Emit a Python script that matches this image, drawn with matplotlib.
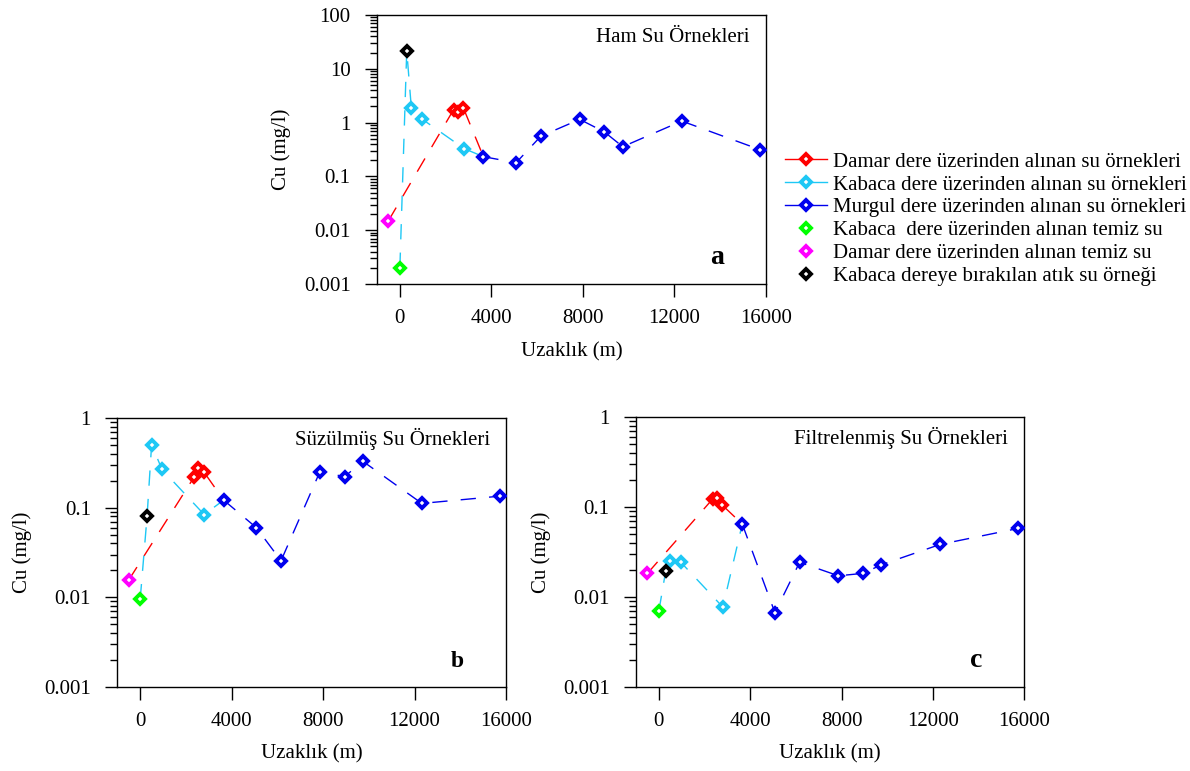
import matplotlib
matplotlib.use('Agg')
import matplotlib.pyplot as plt
from matplotlib.lines import Line2D
from matplotlib.ticker import LogLocator, FuncFormatter, NullFormatter

plt.rcParams['font.family'] = ['Liberation Serif', 'DejaVu Serif']
plt.rcParams['font.size'] = 15

# distance along the streams (m)
x_damar_temiz = -500
x_kabaca_temiz = 0
x_atik = 300
x_kabaca = [500, 950, 2800]
x_damar = [2350, 2550, 2780]
x_murgul = [3650, 5080, 6160, 7860, 8940, 9740, 12320, 15740]

# Cu (mg/l) - a: ham su
ham_damar_temiz = 0.015
ham_kabaca_temiz = 0.002
ham_atik = 21.7
ham_kabaca = [1.9, 1.18, 0.33]
ham_damar = [1.75, 1.6, 1.85]
ham_murgul = [0.233, 0.18, 0.56, 1.15, 0.67, 0.357, 1.07, 0.314]

# b: süzülmüş su
suz_damar_temiz = 0.0156
suz_kabaca_temiz = 0.0095
suz_atik = 0.080
suz_kabaca = [0.51, 0.269, 0.084]
suz_damar = [0.219, 0.281, 0.253]
suz_murgul = [0.122, 0.060, 0.0256, 0.253, 0.223, 0.331, 0.112, 0.135]

# c: filtrelenmiş su
fil_damar_temiz = 0.0183
fil_kabaca_temiz = 0.0070
fil_atik = 0.0196
fil_kabaca = [0.0253, 0.0245, 0.0077]
fil_damar = [0.123, 0.125, 0.105]
fil_murgul = [0.0648, 0.00667, 0.0243, 0.0172, 0.0183, 0.0228, 0.0385, 0.058]

labels = ["Damar dere üzerinden alınan su örnekleri",
          "Kabaca dere üzerinden alınan su örnekleri",
          "Murgul dere üzerinden alınan su örnekleri",
          "Kabaca  dere üzerinden alınan temiz su",
          "Damar dere üzerinden alınan temiz su",
          "Kabaca dereye bırakılan atık su örneği"]

RED, CYAN, BLUE = '#ff0000', '#1ec8f5', '#0000ee'
GREEN, MAGENTA, BLACK = '#00ff00', '#ff00ff', '#000000'
dash = (11, 9.5)
mk = dict(marker='D', ms=4.8, mew=2.8, mfc='white', ls='none', zorder=3)


def draw(ax, damar_temiz, kabaca_temiz, atik, kabaca, damar, murgul):
    # tributaries join Murgul at its first sampling point
    ax.plot([x_damar_temiz] + x_damar + [x_murgul[0]],
            [damar_temiz] + damar + [murgul[0]], color=RED, lw=1, dashes=dash)
    ax.plot([x_kabaca_temiz, x_atik] + x_kabaca + [x_murgul[0]],
            [kabaca_temiz, atik] + kabaca + [murgul[0]], color=CYAN, lw=1, dashes=dash)
    ax.plot(x_murgul, murgul, color=BLUE, lw=1, dashes=dash)

    ax.plot(x_damar, damar, mec=RED, **mk)
    ax.plot(x_kabaca, kabaca, mec=CYAN, **mk)
    ax.plot(x_murgul, murgul, mec=BLUE, **mk)
    ax.plot([x_kabaca_temiz], [kabaca_temiz], mec=GREEN, **mk)
    ax.plot([x_damar_temiz], [damar_temiz], mec=MAGENTA, **mk)
    ax.plot([x_atik], [atik], mec=BLACK, **mk)


def style(ax, ymax, title, letter, letter_size):
    ax.set_yscale('log')
    ax.set_ylim(0.001, ymax)
    ax.set_xlim(-1000, 16000)
    ax.set_xticks([0, 4000, 8000, 12000, 16000])
    ax.yaxis.set_major_locator(LogLocator(base=10))
    ax.yaxis.set_minor_locator(LogLocator(base=10, subs=range(2, 10)))
    ax.yaxis.set_minor_formatter(NullFormatter())
    ax.yaxis.set_major_formatter(FuncFormatter(lambda v, p: '%g' % v))
    ax.tick_params(axis='x', direction='out', length=9, width=1, pad=9)
    ax.tick_params(axis='y', which='major', direction='out', length=9, width=1, pad=10)
    ax.tick_params(axis='y', which='minor', direction='out', length=5, width=1)
    for s in ax.spines.values():
        s.set_linewidth(1)
    ax.set_ylabel('Cu (mg/l)')
    ax.yaxis.set_label_coords(-0.22, 0.5)
    ax.set_xlabel('Uzaklık (m)')
    ax.xaxis.set_label_coords(0.5, -0.215)
    ax.text(0.958, 0.9, title, transform=ax.transAxes, ha='right', va='baseline')
    ax.text(0.892, 0.075, letter, transform=ax.transAxes, ha='right', va='baseline',
            fontweight='bold', fontsize=letter_size)


fig = plt.figure(figsize=(11.9, 7.71), dpi=100)
ax_a = fig.add_axes([0.3168, 0.6316, 0.3269, 0.3489])
ax_b = fig.add_axes([0.0986, 0.1093, 0.3266, 0.3481])
ax_c = fig.add_axes([0.5345, 0.1093, 0.3263, 0.3494])

draw(ax_a, ham_damar_temiz, ham_kabaca_temiz, ham_atik, ham_kabaca, ham_damar, ham_murgul)
draw(ax_b, suz_damar_temiz, suz_kabaca_temiz, suz_atik, suz_kabaca, suz_damar, suz_murgul)
draw(ax_c, fil_damar_temiz, fil_kabaca_temiz, fil_atik, fil_kabaca, fil_damar, fil_murgul)

style(ax_a, 100, 'Ham Su Örnekleri', 'a', 20)
style(ax_b, 1, 'Süzülmüş Su Örnekleri', 'b', 17)
style(ax_c, 1, 'Filtrelenmiş Su Örnekleri', 'c', 20)

# legend
lk = dict(marker='D', ms=4.8, mew=2.8, mfc='white')
handles = [Line2D([], [], color=RED, mec=RED, lw=1, **lk),
           Line2D([], [], color=CYAN, mec=CYAN, lw=1, **lk),
           Line2D([], [], color=BLUE, mec=BLUE, lw=1, **lk),
           Line2D([], [], ls='none', mec=GREEN, **lk),
           Line2D([], [], ls='none', mec=MAGENTA, **lk),
           Line2D([], [], ls='none', mec=BLACK, **lk)]
fig.legend(handles, labels, loc='upper left', bbox_to_anchor=(785 / 1190, 1 - 152 / 771),
           frameon=False, borderpad=0, borderaxespad=0, handlelength=2.0,
           handletextpad=0.3, labelspacing=0.16)

fig.savefig('out.png', dpi=100)
